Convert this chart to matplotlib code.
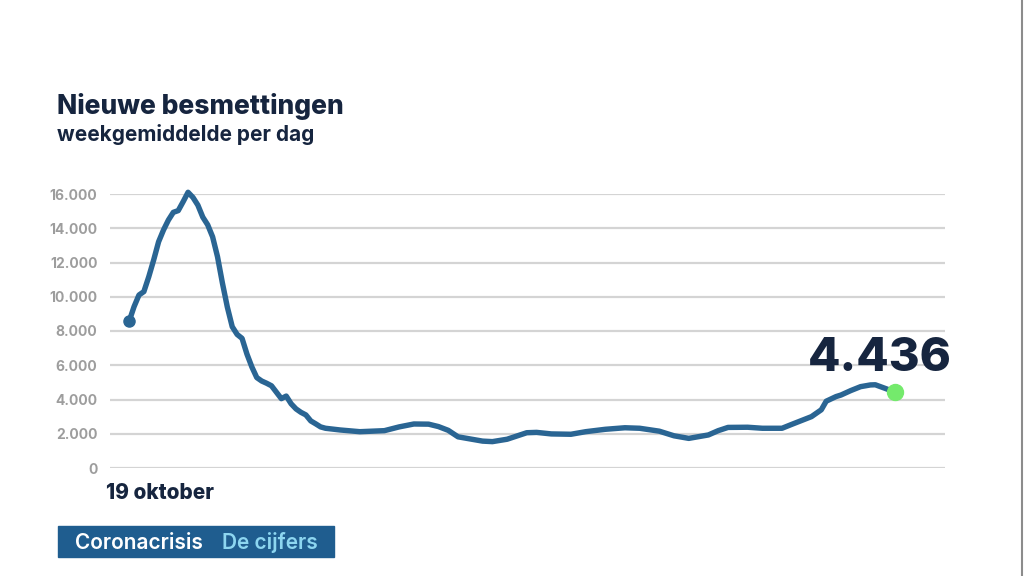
import numpy as np
import pandas as pd
import matplotlib
matplotlib.use("Agg")
import matplotlib.pyplot as plt
from matplotlib.lines import Line2D
from matplotlib.patches import Rectangle
from matplotlib.ticker import FuncFormatter

plt.rcParams['font.family'] = ['Inter', 'DejaVu Sans']

START = "2020-10-19"
# days after 19 oktober, weekly average of new cases per day
days = [0, 1, 2, 3, 4, 5, 6, 7, 8, 9, 10, 11, 12, 13, 14, 15, 16, 17, 18, 19,
        20, 21, 22, 23, 24, 25, 26, 27, 28, 29, 31, 32, 33, 34, 35, 36, 37, 38,
        39, 40, 43, 47, 52, 55, 58, 61, 63, 65, 67, 69, 72, 74, 77, 79, 81, 83,
        86, 90, 93, 97, 101, 104, 108, 111, 114, 118, 120, 122, 126, 129, 133,
        135, 139, 141, 142, 144, 145, 147, 149, 151, 152, 154, 156]
cases = [8570, 9420, 10100, 10300, 11170, 12150, 13210, 13900, 14480, 14930,
         15030, 15550, 16100, 15800, 15350, 14650, 14200, 13500, 12340, 10800,
         9400, 8250, 7800, 7570, 6650, 5900, 5280, 5080, 4950, 4800, 4050, 4200,
         3750, 3450, 3250, 3100, 2750, 2580, 2400, 2320, 2220, 2120, 2180, 2400,
         2570, 2560, 2420, 2200, 1820, 1720, 1570, 1540, 1680, 1870, 2060, 2080,
         1990, 1970, 2120, 2260, 2350, 2320, 2150, 1880, 1730, 1930, 2180, 2370,
         2380, 2320, 2320, 2550, 3000, 3400, 3900, 4170, 4260, 4520, 4750, 4850,
         4860, 4650, 4436]
yticks = [0, 2000, 4000, 6000, 8000, 10000, 12000, 14000, 16000]

dates = pd.Timestamp(START) + pd.to_timedelta(days, unit="D")

NAVY = "#16253f"
LINE = "#2a6593"

fig = plt.figure(figsize=(10.24, 5.76), dpi=100)
fig.patch.set_facecolor("white")
ax = fig.add_axes([110 / 1024, 108 / 576, 835 / 1024, 274 / 576])

for t in yticks:
    ax.axhline(t, color="#d4d4d4", lw=1.6, zorder=1)

ax.plot(dates, cases, color=LINE, lw=3.9, solid_joinstyle="round",
        solid_capstyle="round", zorder=3, clip_on=False)
ax.plot(dates[0], cases[0], "o", color=LINE, ms=8, zorder=3, clip_on=False)
ax.plot(dates[-1], cases[-1], "o", color="#74ea6c", ms=11.5, zorder=4,
        clip_on=False)

x0 = dates[0] - pd.Timedelta(days=3.9)
x1 = dates[0] + pd.Timedelta(days=166.2)
ax.set_xlim(x0, x1)
ax.set_ylim(0, 16000)
ax.set_yticks(yticks)
ax.yaxis.set_major_formatter(FuncFormatter(lambda v, p: f"{v:,.0f}".replace(",", ".")))
ax.set_xticks([])
ax.tick_params(axis="y", length=0, pad=9, labelsize=10, labelcolor="#9d9d9d")
for lbl in ax.get_yticklabels():
    lbl.set_fontweight("bold")
for s in ax.spines.values():
    s.set_visible(False)

ax.annotate(f"{cases[-1]:,}".replace(",", "."), xy=(dates[-1], cases[-1]),
            xytext=(41, 15), textcoords="offset points", ha="right",
            va="baseline", fontsize=34, fontweight="heavy", color=NAVY)

ax.annotate("19 oktober", xy=(dates[0], 0), xytext=(-17, -22),
            textcoords="offset points", ha="left", va="baseline",
            fontsize=15, fontweight="heavy", color=NAVY, annotation_clip=False)

fig.text(57 / 1024, 1 - 114 / 576, "Nieuwe besmettingen", fontsize=19,
         fontweight="heavy", color=NAVY, va="baseline")
fig.text(57 / 1024, 1 - 141 / 576, "weekgemiddelde per dag", fontsize=15,
         fontweight="bold", color=NAVY, va="baseline")

fig.patches.append(Rectangle((58 / 1024, 1 - 557 / 576), 276 / 1024, 31 / 576,
                             transform=fig.transFigure, color="#1f5d8f"))
fig.text(75 / 1024, 1 - 549 / 576, "Coronacrisis", fontsize=15,
         fontweight="semibold", color="white", va="baseline")
fig.text(222 / 1024, 1 - 549 / 576, "De cijfers", fontsize=15,
         fontweight="semibold", color="#8dd6f0", va="baseline")

fig.lines.append(Line2D([1021.5 / 1024] * 2, [0, 1], transform=fig.transFigure,
                        color="#8c8c8c", lw=1.5))

fig.savefig("out.png", dpi=100, facecolor="white")
